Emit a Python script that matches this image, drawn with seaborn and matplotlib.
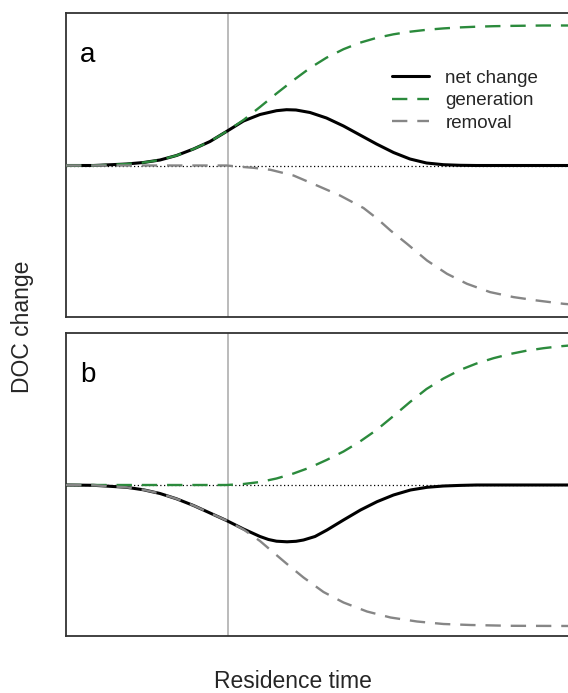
import numpy as np
import pandas as pd
import matplotlib
matplotlib.use("Agg")
import matplotlib.pyplot as plt
import seaborn as sns

# ---------------- data ----------------
# panel a  (residence time in arbitrary units, DOC change in arbitrary units)
t_gen_a = [0, 5.5, 12.1, 15.5, 18.8, 22.1, 25.5, 28.8, 32.1, 35.5, 38.8, 42.1, 45.5,
           48.8, 52.1, 55.5, 58.8, 62.1, 65.5, 68.8, 72.1, 75.5, 78.8, 82.1, 85.5,
           88.8, 92.1, 95.5, 98.8, 101.2]
gen_a = [0, 0, 1.5, 3, 5.5, 10, 16.5, 24, 34, 45.5, 58.5, 72, 85.3,
         97.5, 107.8, 116.3, 122.8, 127.6, 131.2, 133.8, 135.7, 137.1, 138.1, 138.8, 139.3,
         139.6, 139.8, 140, 140, 140]

t_net_a = [0, 5.5, 12.1, 15.5, 18.8, 22.1, 25.5, 28.8, 32.1, 35.5, 38.8, 42.1, 44.1,
           46, 48.8, 52.1, 55.5, 58.8, 62.1, 65.5, 68.8, 72.1, 75.5, 78.8, 82.1, 101.2]
net_a = [0, 0, 1.5, 3, 5.5, 10, 16.5, 24, 34, 44.5, 51, 54.8, 55.8,
         55.5, 53, 47.5, 39.5, 30.5, 21.5, 13, 6.5, 2.5, 0.8, 0.2, 0, 0]

t_rem_a = [0, 32.1, 34.2, 37.5, 40.9, 45.5, 50.2, 54.8, 59.5, 62.2, 64.9, 68.2, 72.2,
           76.2, 80.2, 84.8, 89.5, 94.2, 99.5, 101.2]
rem_a = [0, 0, -1, -2.3, -4.3, -10, -20, -30, -42.5, -53, -65, -78.3, -95,
         -108.3, -118.3, -126.6, -131.6, -135, -138.3, -139]

# panel b
t_gen_b = [0, 32.1, 35.5, 38.8, 42.1, 45.5, 48.8, 52.1, 55.5, 58.8, 62.1, 65.5, 68.8,
           72.1, 75.5, 78.8, 82.1, 85.5, 88.8, 92.1, 95.5, 98.8, 101.2]
gen_b = [0, 0, 1, 3, 6.5, 11.5, 17.5, 25, 33.5, 43.5, 55, 69, 83,
         96, 106.5, 115, 121.5, 126.8, 131, 134.3, 136.8, 138.7, 139.7]

t_net_b = [0, 5.5, 12.1, 15.5, 18.8, 22.1, 25.5, 28.8, 32.1, 35.5, 38.8, 40.5, 42.1,
           44.2, 46, 47.5, 49.8, 52.2, 55.5, 58.9, 62.2, 65.5, 68.9, 72.2, 75.5,
           78.8, 82.1, 101.2]
net_b = [0, -0.3, -2.3, -4.8, -8.5, -13.8, -20.5, -28, -35.5, -44, -51.5, -54.5, -56.2,
         -56.8, -56.3, -55, -51.5, -45, -35, -25, -16.7, -10, -5, -2.3, -1,
         -0.4, 0, 0]

t_rem_b = [0, 5.5, 12.1, 15.5, 18.8, 22.1, 25.5, 28.8, 32.1, 35.5, 38.8, 40.9, 44.2,
           47.5, 51.5, 55.5, 60.2, 64.9, 70.2, 75.5, 80.9, 88.9, 101.2]
rem_b = [0, -0.3, -2.3, -4.8, -8.5, -13.8, -20.5, -28, -35.5, -44.5, -56, -65, -79,
         -92.5, -107, -117.5, -126.5, -132.5, -136.5, -139, -140, -140.8, -141]

series_names = ["net change", "generation", "removal"]
panel_labels = ["a", "b"]
x_label = "Residence time"
y_label = "DOC change"
t_marker = 32.3  # vertical reference line

# ---------------- style ----------------
sns.set_style("white")
plt.rcParams["font.family"] = ["Liberation Sans", "DejaVu Sans"]

W, H = 568, 693
fig = plt.figure(figsize=(W / 100, H / 100), dpi=100)

def frac_box(left, top, right, bottom):
    return [left / W, 1 - bottom / H, (right - left) / W, (bottom - top) / H]

ax_a = fig.add_axes(frac_box(66, 13, 572, 317))
ax_b = fig.add_axes(frac_box(66, 333, 572, 636))

green = "#2b8a3c"
grey = "#868686"
dash = (6.5, 4.2)

def draw(ax, tn, net, tg, gen, tr, rem, ylim, lab, legend=False):
    ax.axhline(0, color="black", lw=0.9, ls=(0, (1, 2)), zorder=1)
    ax.axvline(t_marker, color="#a8a8a8", lw=1.1, zorder=1)
    sns.lineplot(x=tn, y=net, ax=ax, color="black", lw=2.2, zorder=3,
                 label=series_names[0] if legend else None)
    sns.lineplot(x=tg, y=gen, ax=ax, color=green, lw=1.7, zorder=4,
                 label=series_names[1] if legend else None)
    sns.lineplot(x=tr, y=rem, ax=ax, color=grey, lw=1.7, zorder=5,
                 label=series_names[2] if legend else None)
    ax.lines[-2].set_dashes(dash)
    ax.lines[-1].set_dashes(dash)
    ax.set_xlim(0, 101.2)
    ax.set_ylim(*ylim)
    ax.set_xticks([])
    ax.set_yticks([])
    ax.set_xlabel("")
    ax.set_ylabel("")
    for s in ax.spines.values():
        s.set_color("#333333")
        s.set_linewidth(1.3)
    ax.text(0.028, 0.838, lab, transform=ax.transAxes, fontsize=20,
            ha="left", va="baseline", color="black")
    if legend:
        handles, labels = ax.get_legend_handles_labels()
        handles[1].set_dashes(dash)
        handles[2].set_dashes(dash)
        ax.legend(handles, labels, loc="upper left",
                  bbox_to_anchor=(0.644, 0.813), frameon=False,
                  fontsize=13.5, handlelength=2.0, handletextpad=0.85,
                  labelspacing=0.28, borderpad=0, borderaxespad=0)
    elif ax.get_legend() is not None:
        ax.get_legend().remove()

draw(ax_a, t_net_a, net_a, t_gen_a, gen_a, t_rem_a, rem_a, (-151.5, 152.5),
     panel_labels[0], legend=True)
draw(ax_b, t_net_b, net_b, t_gen_b, gen_b, t_rem_b, rem_b, (-151, 152),
     panel_labels[1])

fig.text(22 / W, 1 - 327 / H, y_label, rotation=90, fontsize=16.5,
         ha="center", va="center")
fig.text(293 / W, 1 - 682 / H, x_label, fontsize=16.5, ha="center", va="center")

fig.savefig("out.png", dpi=100)
